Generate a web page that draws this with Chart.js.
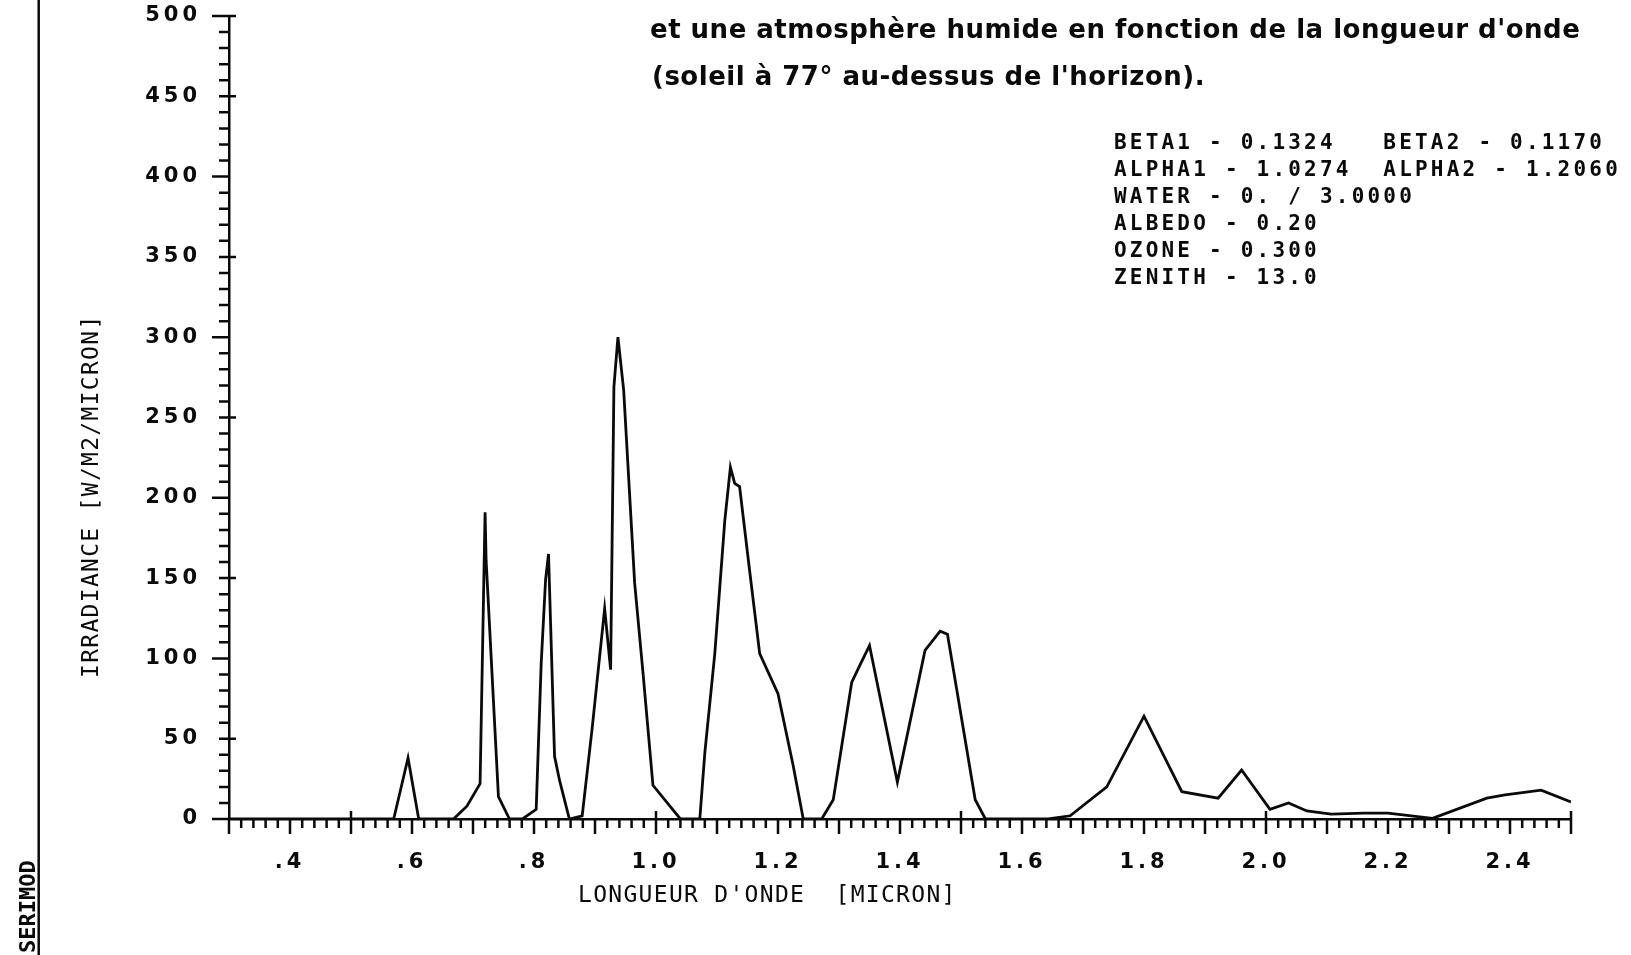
<!DOCTYPE html>
<html>
<head>
	<meta charset="utf-8">
	<title>Irradiance - longueur d'onde</title>
	<script src="https://cdn.jsdelivr.net/npm/chart.js"></script>
	<style>
		body { margin: 0; background: #fff; }
		canvas { display: block; }
	</style>
</head>
<body>
	<canvas id="grafico" width="1631" height="955"></canvas>

	<script>
		// longueur d'onde (micron) et irradiance (W/M2/MICRON)
		const longueurs = [
			0.300, 0.570, 0.5935, 0.611, 0.668, 0.690, 0.7116, 0.7198, 0.7215, 0.7417,
			0.7598, 0.781, 0.8036, 0.8118, 0.819, 0.8238, 0.8337, 0.8419, 0.858, 0.879,
			0.8955, 0.9158, 0.9256, 0.931, 0.9376, 0.947, 0.965, 0.9787, 0.995, 1.040,
			1.0718, 1.080, 1.0964, 1.1128, 1.122, 1.129, 1.137, 1.154, 1.170, 1.200,
			1.225, 1.2414, 1.2716, 1.2906, 1.3208, 1.3345, 1.350, 1.3957, 1.441, 1.4658,
			1.4778, 1.5233, 1.540, 1.643, 1.679, 1.739, 1.800, 1.862, 1.9215, 1.960,
			2.0065, 2.037, 2.067, 2.107, 2.160, 2.200, 2.273, 2.362, 2.392, 2.451, 2.500
		];
		const irradiance = [
			0, 0, 38, 0, 0, 8, 22, 191, 161, 14,
			0, 0, 6, 97, 149, 165, 39, 24, 0, 2,
			57, 131, 93, 269, 300, 267, 147, 91, 21, 0,
			0, 41, 103, 186, 219, 209, 207, 153, 103, 78,
			33, 0, 0, 12, 85, 96, 108, 23, 105, 117,
			115, 12, 0, 0, 2, 20, 64, 17, 13, 30.5,
			6, 10, 5, 3, 3.7, 3.7, 0.4, 13, 15, 18, 10.6
		];

		const xTicks = [0.4, 0.6, 0.8, 1.0, 1.2, 1.4, 1.6, 1.8, 2.0, 2.2, 2.4];
		const xTickLabels = ['.4', '.6', '.8', '1.0', '1.2', '1.4', '1.6', '1.8', '2.0', '2.2', '2.4'];
		const yTicks = [0, 50, 100, 150, 200, 250, 300, 350, 400, 450, 500];
		const yTickLabels = ['0', '50', '100', '150', '200', '250', '300', '350', '400', '450', '500'];

		const titre = [
			"et une atmosphère humide en fonction de la longueur d'onde",
			"(soleil à 77° au-dessus de l'horizon)."
		];
		const parametres = [
			'BETA1 - 0.1324   BETA2 - 0.1170',
			'ALPHA1 - 1.0274  ALPHA2 - 1.2060',
			'WATER - 0. / 3.0000',
			'ALBEDO - 0.20',
			'OZONE - 0.300',
			'ZENITH - 13.0'
		];
		const titreX = "LONGUEUR D'ONDE  [MICRON]";
		const titreY = 'IRRADIANCE [W/M2/MICRON]';

		const encre = '#0a0a0a';
		const mono = '"DejaVu Sans Mono", monospace';
		const sans = '"DejaVu Sans", sans-serif';

		// petites graduations, textes libres et trait de marge
		const decor = {
			id: 'decor',
			beforeDraw(chart) {
				chart.ctx.letterSpacing = '4px';
			},
			afterDraw(chart) {
				const ctx = chart.ctx;
				const xs = chart.scales.x;
				const ys = chart.scales.y;
				ctx.save();
				ctx.letterSpacing = '0px';
				ctx.strokeStyle = encre;
				ctx.fillStyle = encre;
				ctx.lineWidth = 2.5;

				ctx.beginPath();
				for (let v = 0; v <= 500; v += 10) {
					const y = ys.getPixelForValue(v);
					const x0 = ys.right;
					const cent = v % 100 === 0;
					const demi = v % 50 === 0 && !cent;
					ctx.moveTo(x0 - (cent ? 17 : 10), y);
					ctx.lineTo(x0 + (demi || v === 500 ? 7 : 0), y);
				}
				for (let i = 0; i <= 110; i++) {
					const x = xs.getPixelForValue(0.3 + i * 0.02);
					const y0 = xs.top;
					const major = i % 5 === 0;
					const demi = i % 25 === 10;
					ctx.moveTo(x, y0 - (demi ? 8 : 0));
					ctx.lineTo(x, y0 + (major ? 15 : 9));
				}
				// trait vertical de marge
				ctx.moveTo(38.7, 0);
				ctx.lineTo(38.7, 955);
				ctx.stroke();

				ctx.textAlign = 'left';
				ctx.textBaseline = 'alphabetic';

				ctx.font = 'bold 26px ' + sans;
				ctx.letterSpacing = '0.5px';
				ctx.fillText(titre[0], 650, 38);
				ctx.fillText(titre[1], 652, 85);

				ctx.font = 'bold 21px ' + mono;
				ctx.letterSpacing = '3.2px';
				parametres.forEach((l, i) => ctx.fillText(l, 1114, 149 + i * 27));

				ctx.font = '23px ' + mono;
				ctx.letterSpacing = '1.3px';
				ctx.fillText(titreX, 578, 902);

				ctx.save();
				ctx.translate(98.4, 678);
				ctx.rotate(-Math.PI / 2);
				ctx.fillText(titreY, 0, 0);
				ctx.restore();

				ctx.save();
				ctx.font = 'bold 22px ' + mono;
				ctx.letterSpacing = '0px';
				ctx.translate(35, 953);
				ctx.rotate(-Math.PI / 2);
				ctx.fillText('SERIMOD', 0, 0);
				ctx.restore();

				ctx.restore();
				ctx.letterSpacing = '0px';
			}
		};

		const ctx = document.getElementById('grafico').getContext('2d');
		new Chart(ctx, {
			type: 'line',
			data: {
				datasets: [{
					data: longueurs.map((l, i) => ({ x: l, y: irradiance[i] })),
					borderColor: encre,
					borderWidth: 2.8,
					pointRadius: 0,
					tension: 0,
					fill: false
				}]
			},
			options: {
				responsive: false,
				animation: false,
				layout: { padding: { top: 16, right: 60, left: 0, bottom: 0 } },
				plugins: {
					legend: { display: false },
					tooltip: { enabled: false }
				},
				scales: {
					x: {
						type: 'linear',
						min: 0.3,
						max: 2.5,
						afterFit: s => { s.height = 136; s.paddingLeft = 0; s.paddingRight = 0; },
						afterBuildTicks: s => { s.ticks = xTicks.map(v => ({ value: v })); },
						grid: { display: false, drawTicks: false },
						border: { display: true, color: encre, width: 2.5 },
						ticks: {
							padding: 31,
							color: encre,
							autoSkip: false,
							maxRotation: 0,
							font: { family: sans, weight: 'bold', size: 21 },
							callback: (v, i) => xTickLabels[i]
						}
					},
					y: {
						min: 0,
						max: 500,
						afterFit: s => { s.width = 229; s.paddingTop = 0; s.paddingBottom = 0; },
						afterBuildTicks: s => { s.ticks = yTicks.map(v => ({ value: v })); },
						grid: { display: false, drawTicks: false },
						border: { display: true, color: encre, width: 2.5 },
						ticks: {
							padding: 28,
							color: encre,
							autoSkip: false,
							font: { family: sans, weight: 'bold', size: 21 },
							callback: (v, i) => yTickLabels[i]
						}
					}
				}
			},
			plugins: [decor]
		});
	</script>
</body>
</html>
